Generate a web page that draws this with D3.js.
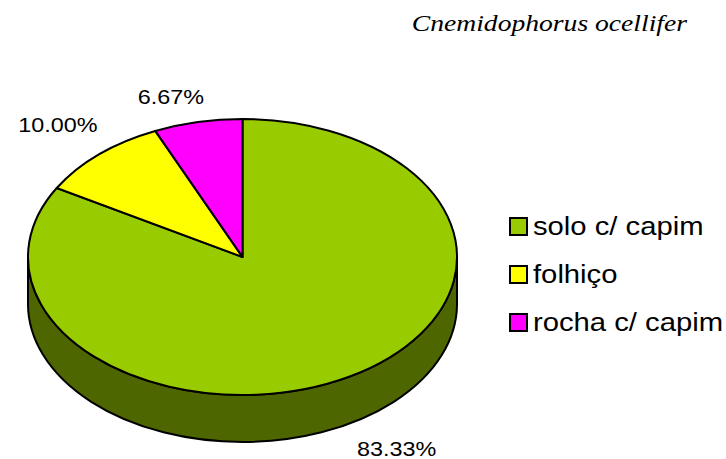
<!DOCTYPE html>
<html>
<head>
<meta charset="utf-8">
<script src="https://cdn.jsdelivr.net/npm/d3@7"></script>
<style>
  body { margin: 0; background: #fff; }
  text { font-family: Arial, "Liberation Sans", sans-serif; fill: #000; }
  text.title { font-family: "Liberation Serif", "Times New Roman", serif; font-style: italic; }
</style>
</head>
<body>
<svg id="chart" width="726" height="459"></svg>
<script>
// data
const categories = ["solo c/ capim", "folhiço", "rocha c/ capim"];
const counts = [25, 3, 2];
const percentLabels = ["83.33%", "10.00%", "6.67%"];
const colors = ["#99CC00", "#FFFF00", "#FF00FF"];
const sideColor = "#4D6600";
const title = "Cnemidophorus ocellifer";

const svg = d3.select("#chart");

// geometry of the tilted pie
const cx = 242.5, cy = 257, rx = 214.5, ry = 138, depth = 47;
const k = ry / rx;           // vertical squash
const stretch = 1.17;        // text in the picture is stretched horizontally

const pie = d3.pie().sort(null).value(d => d)(counts);
const arc = d3.arc().innerRadius(0).outerRadius(rx);

// pie drawn as a circle in a squashed group
let g = svg.append("g").attr("transform", `translate(${cx},${cy}) scale(1,${k})`);

// side wall (front half only, all belongs to the big slice)
const D = depth / k;
let side = d3.path();
side.moveTo(rx, 0);
side.arc(0, 0, rx, 0, Math.PI, false);
side.lineTo(-rx, D);
side.arc(0, D, rx, Math.PI, 0, true);
side.closePath();

g.append("path")
  .attr("d", side.toString())
  .attr("fill", sideColor)
  .attr("stroke", "#000")
  .attr("stroke-width", 2)
  .attr("vector-effect", "non-scaling-stroke");

g.selectAll("path.slice")
  .data(pie)
  .enter()
  .append("path")
  .attr("class", "slice")
  .attr("d", arc)
  .attr("fill", (d, i) => colors[i])
  .attr("stroke", "#000")
  .attr("stroke-width", 2)
  .attr("stroke-linejoin", "round")
  .attr("vector-effect", "non-scaling-stroke");

// percentage labels: anchored at the rim point of each slice's mid angle
const nudge = [[47, 32], [-41, -22], [-27, -18]];
pie.forEach((d, i) => {
  let a = (d.startAngle + d.endAngle) / 2;
  let px = cx + rx * Math.sin(a);
  let py = cy - ry * Math.cos(a);
  if (Math.cos(a) < 0) py += depth;
  svg.append("text")
    .attr("transform", `translate(${px + nudge[i][0]},${py + nudge[i][1]}) scale(${stretch},1)`)
    .attr("text-anchor", "middle")
    .attr("font-size", 20)
    .text(percentLabels[i]);
});

// title
svg.append("text")
  .attr("class", "title")
  .attr("transform", `translate(687,31) scale(1.15,1)`)
  .attr("text-anchor", "end")
  .attr("font-size", 24)
  .text(title);

// legend
const legY = d3.scalePoint().domain(categories).range([226, 322]);
let leg = svg.append("g").attr("transform", "translate(510,0)");
leg.selectAll("rect")
  .data(categories)
  .enter()
  .append("rect")
  .attr("x", 0)
  .attr("y", d => legY(d) - 8)
  .attr("width", 17)
  .attr("height", 17)
  .attr("fill", (d, i) => colors[i])
  .attr("stroke", "#000")
  .attr("stroke-width", 2);

leg.selectAll("text")
  .data(categories)
  .enter()
  .append("text")
  .attr("transform", d => `translate(23,${legY(d) + 9}) scale(1.17,1)`)
  .attr("font-size", 25)
  .text(d => d);
</script>
</body>
</html>
